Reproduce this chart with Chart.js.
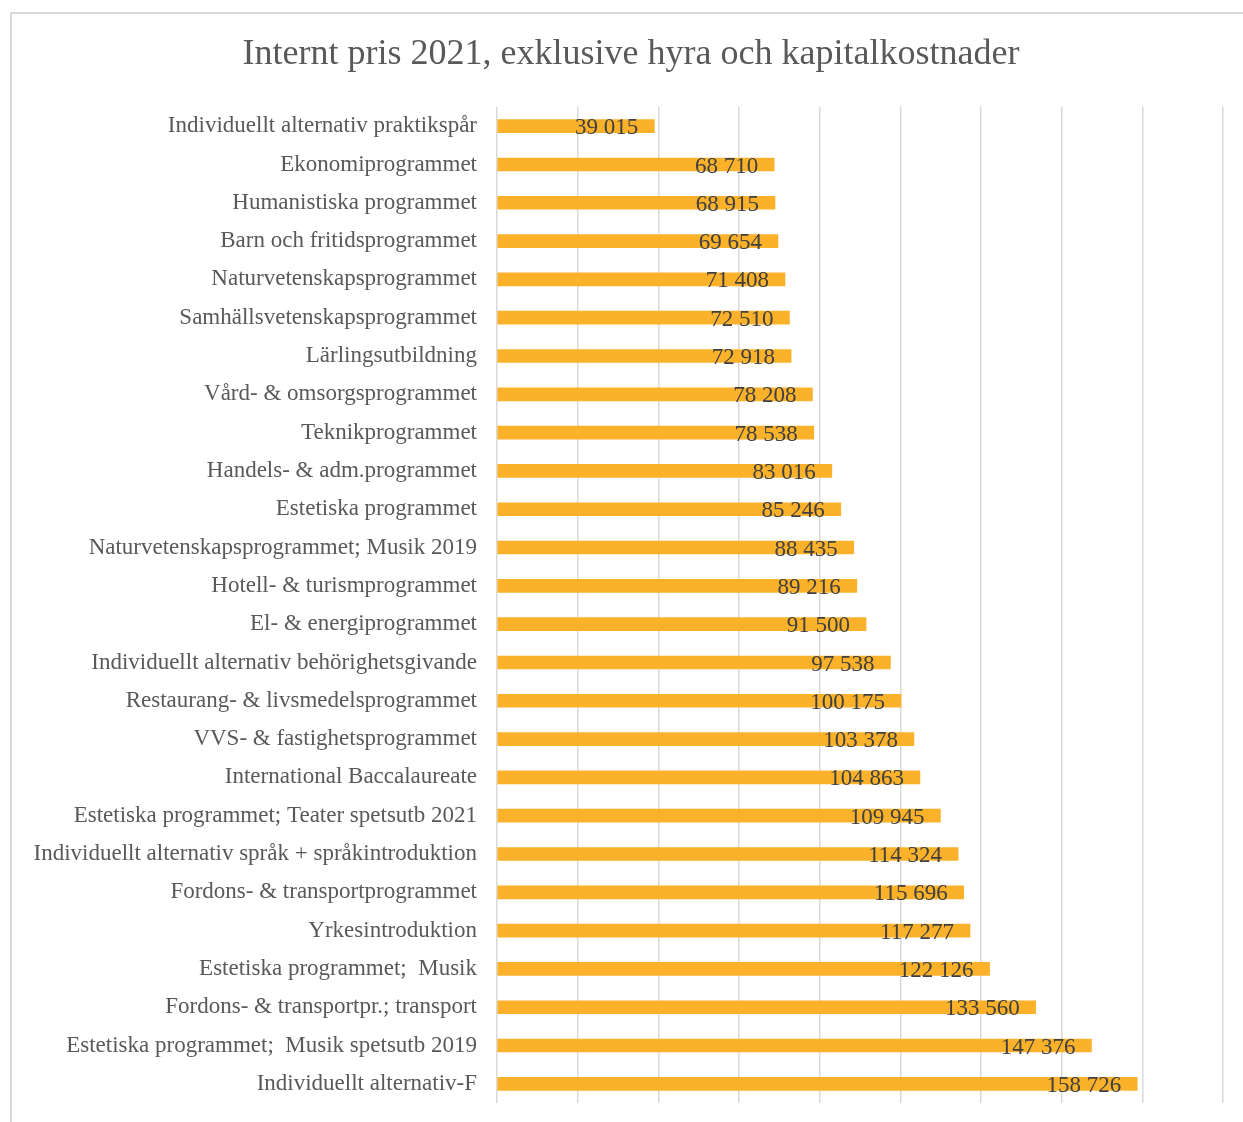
<!DOCTYPE html>
<html>
<head>
<meta charset="utf-8">
<script src="https://cdn.jsdelivr.net/npm/chart.js@4"></script>
<style>
    html, body { margin: 0; padding: 0; background: #fff; overflow: hidden; }
    #frame {
        position: absolute; left: 10px; top: 12px; width: 1300px; height: 1200px;
        border-left: 2px solid #d9d9d9; border-top: 2px solid #d9d9d9;
    }
    #chart { position: absolute; left: 0; top: 0; }
</style>
</head>
<body>
<div id="frame"></div>
<canvas id="chart" width="1243" height="1122"></canvas>
<script>
let programs = [
    'Individuellt alternativ praktikspår',
    'Ekonomiprogrammet',
    'Humanistiska programmet',
    'Barn och fritidsprogrammet',
    'Naturvetenskapsprogrammet',
    'Samhällsvetenskapsprogrammet',
    'Lärlingsutbildning',
    'Vård- & omsorgsprogrammet',
    'Teknikprogrammet',
    'Handels- & adm.programmet',
    'Estetiska programmet',
    'Naturvetenskapsprogrammet; Musik 2019',
    'Hotell- & turismprogrammet',
    'El- & energiprogrammet',
    'Individuellt alternativ behörighetsgivande',
    'Restaurang- & livsmedelsprogrammet',
    'VVS- & fastighetsprogrammet',
    'International Baccalaureate',
    'Estetiska programmet; Teater spetsutb 2021',
    'Individuellt alternativ språk + språkintroduktion',
    'Fordons- & transportprogrammet',
    'Yrkesintroduktion',
    'Estetiska programmet;  Musik',
    'Fordons- & transportpr.; transport',
    'Estetiska programmet;  Musik spetsutb 2019',
    'Individuellt alternativ-F'
];

let prices = [
    39015, 68710, 68915, 69654, 71408, 72510, 72918, 78208, 78538, 83016,
    85246, 88435, 89216, 91500, 97538, 100175, 103378, 104863, 109945, 114324,
    115696, 117277, 122126, 133560, 147376, 158726
];

let xMax = 180000;
let xStep = 20000;

let title = 'Internt pris 2021, exklusive hyra och kapitalkostnader';
let serif = '"Liberation Serif", serif';

function fmt(n) {
    return String(n).replace(/\B(?=(\d{3})+(?!\d))/g, ' ');
}

// title is centred on the whole frame, not on the canvas
let frameTitle = {
    id: 'frameTitle',
    afterDraw(chart) {
        let c = chart.ctx;
        c.save();
        c.font = '36px ' + serif;
        c.fillStyle = '#595959';
        c.textAlign = 'center';
        c.textBaseline = 'alphabetic';
        c.fillText(title, 631, 64);
        c.restore();
    }
};

// draws the value at the inner end of each bar
let valueLabels = {
    id: 'valueLabels',
    afterDatasetsDraw(chart) {
        let c = chart.ctx;
        let meta = chart.getDatasetMeta(0);
        c.save();
        c.font = '23px ' + serif;
        c.fillStyle = '#404040';
        c.textAlign = 'right';
        c.textBaseline = 'middle';
        meta.data.forEach((bar, i) => {
            c.fillText(fmt(prices[i]), bar.x - 16, bar.y + 2);
        });
        c.restore();
    }
};

let ctx = document.getElementById('chart').getContext('2d');

let chart = new Chart(ctx, {
    type: 'bar',
    data: {
        labels: programs,
        datasets: [{
            data: prices,
            backgroundColor: '#fbb22a',
            barThickness: 13
        }]
    },
    options: {
        indexAxis: 'y',
        responsive: false,
        animation: false,
        layout: { padding: { top: 107, bottom: 19, right: 20, left: 0 } },
        plugins: {
            legend: { display: false },
            tooltip: { enabled: false },
            title: { display: false }
        },
        scales: {
            x: {
                min: 0,
                max: xMax,
                ticks: { display: false, stepSize: xStep },
                grid: { color: '#d9d9d9', lineWidth: 1.5, drawTicks: false },
                border: { display: false }
            },
            y: {
                ticks: {
                    color: '#595959',
                    padding: 20,
                    font: { family: serif, size: 23 }
                },
                grid: { display: false, drawTicks: false },
                border: { display: false },
                afterFit(scale) {
                    scale.width = 497;
                    scale.paddingTop = 0;
                    scale.paddingBottom = 0;
                }
            }
        }
    },
    plugins: [valueLabels, frameTitle]
});
</script>
</body>
</html>
